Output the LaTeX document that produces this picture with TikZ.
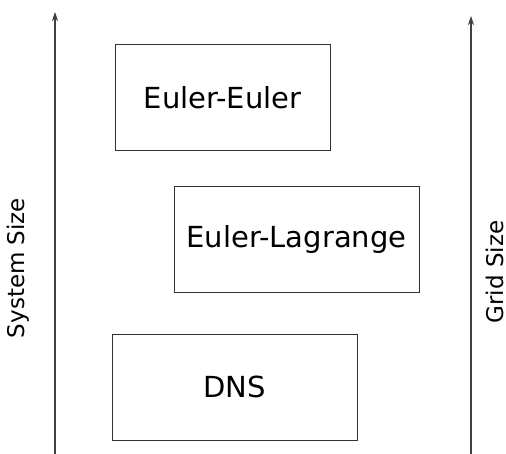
\documentclass[tikz,border=0pt]{standalone}
\usepackage{fontspec}
\setmainfont{DejaVu Sans}
\usetikzlibrary{arrows.meta}
\begin{document}
\begin{tikzpicture}[x=1pt,y=-1pt,
  box/.style={draw=black!80,line width=1pt,inner sep=0pt,font=\fontsize{29}{34}\selectfont},
  axis/.style={draw=black!75,line width=1.1pt,-{Stealth[length=9pt,width=6pt]}},
  lab/.style={font=\fontsize{23}{27}\selectfont,rotate=90,inner sep=0pt,text height=16.8pt,text depth=0pt}]
\useasboundingbox (0,0) rectangle (506,454);
\node[box,minimum width=215pt,minimum height=106pt] (ee) at (222.5,98) {Euler-Euler};
\node[box,minimum width=245pt,minimum height=106pt] (el) at (296.5,240) {Euler-Lagrange};
\node[box,minimum width=245pt,minimum height=106pt] (dns) at (234.5,387) {DNS};
\coordinate (l0) at (55,454);
\coordinate (l1) at (55,12);
\coordinate (r0) at (471,454);
\coordinate (r1) at (471,16);
\draw[axis] (l0) -- (l1);
\draw[axis] (r0) -- (r1);
\node[lab] (sys) at (16.5,268) {System Size};
\node[lab] (grid) at (495,272) {Grid Size};
\end{tikzpicture}
\end{document}
